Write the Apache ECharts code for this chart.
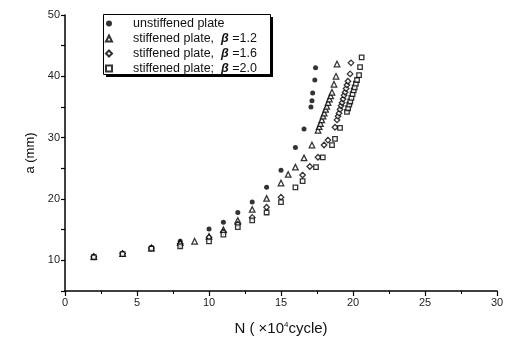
<!DOCTYPE html>
<html>
<head>
<meta charset="utf-8">
<script src="https://cdn.jsdelivr.net/npm/echarts@6/dist/echarts.min.js"></script>
<style>html,body{margin:0;padding:0;background:#fff;}#c{width:507px;height:345px;}</style>
</head>
<body>
<div id="c"></div>
<script>
// Unstiffened plate
var N0 = [2, 4, 6, 8, 10, 11, 12, 13, 14, 15, 16, 16.6, 17.08, 17.15, 17.2, 17.35, 17.4];
var A0 = [10.6, 11.1, 12.1, 13.1, 15.1, 16.2, 17.8, 19.5, 21.9, 24.7, 28.4, 31.4, 35.0, 36.0, 37.3, 39.4, 41.4];
// Stiffened plate, beta = 1.2
var N1 = [2, 4, 6, 8, 9, 10, 11, 12, 13, 14, 15, 15.5, 16, 16.6, 17.15, 17.57, 17.65, 17.74, 17.83, 17.92, 18.0, 18.1, 18.18, 18.27, 18.36, 18.45, 18.54, 18.68, 18.82, 18.89];
var A1 = [10.6, 11.1, 12.0, 12.9, 13.1, 13.9, 15.0, 16.5, 18.3, 20.1, 22.6, 24.0, 25.2, 26.7, 28.8, 31.2, 31.8, 32.3, 32.9, 33.5, 34.0, 34.6, 35.1, 35.7, 36.3, 36.8, 37.4, 38.7, 40.0, 42.0];
// Stiffened plate, beta = 1.6
var N2 = [2, 4, 6, 8, 10, 11, 12, 13, 14, 15, 16.5, 17.0, 17.57, 17.99, 18.26, 18.75, 18.89, 18.96, 19.03, 19.1, 19.17, 19.24, 19.31, 19.38, 19.45, 19.52, 19.58, 19.65, 19.8, 19.86];
var A2 = [10.6, 11.1, 12.0, 12.7, 13.75, 14.6, 15.9, 17.0, 18.65, 20.3, 23.9, 25.3, 26.8, 28.8, 29.6, 31.7, 32.9, 33.5, 34.0, 34.6, 35.2, 35.7, 36.3, 36.9, 37.4, 38.0, 38.6, 39.2, 40.4, 42.2];
// Stiffened plate, beta = 2.0
var N3 = [2, 4, 6, 8, 10, 11, 12, 13, 14, 15, 16, 16.5, 17.43, 17.9, 18.54, 18.75, 19.1, 19.58, 19.66, 19.74, 19.81, 19.89, 19.97, 20.05, 20.12, 20.2, 20.28, 20.42, 20.49, 20.6];
var A3 = [10.5, 11.0, 11.9, 12.3, 13.1, 14.2, 15.4, 16.5, 17.8, 19.5, 21.9, 22.9, 25.2, 26.8, 28.8, 29.8, 31.6, 34.2, 34.8, 35.4, 35.9, 36.5, 37.1, 37.7, 38.2, 38.8, 39.4, 40.2, 41.5, 43.1];

var names = ['unstiffened plate', 'stiffened plate,  β =1.2', 'stiffened plate,  β =1.6', 'stiffened plate;  β =2.0'];
var xTicks = [0, 5, 10, 15, 20, 25, 30];
var yTicks = [10, 20, 30, 40, 50];

function pairs(xs, ys) { return xs.map(function (x, i) { return [x, ys[i]]; }); }

var chart = echarts.init(document.getElementById('c'), null, {renderer: 'canvas'});
var font = 'Liberation Sans, Arial, sans-serif';
var option = {
  animation: false,
  backgroundColor: '#fff',
  grid: {left: 65, right: 10, top: 15, bottom: 54},
  graphic: [
    {type: 'rect', z: 1, left: 106, top: 17, shape: {width: 167, height: 60}, style: {fill: '#000'}},
    {type: 'rect', z: 2, left: 103, top: 14, shape: {width: 167, height: 60}, style: {fill: '#fff', stroke: '#000', lineWidth: 1}}
  ],
  legend: {
    z: 10,
    orient: 'vertical',
    left: 105, top: 17,
    padding: [0, 0, 0, 0],
    itemGap: 2,
    itemWidth: 6, itemHeight: 6,
    data: names,
    formatter: function (n) {
      var p = n.split('β');
      if (p.length === 1) return '{t|' + n + '}';
      return '{t|' + p[0] + '}{b|β}{t|' + p[1] + '}';
    },
    textStyle: {
      fontFamily: font, color: '#111', padding: [0, 0, 0, 16],
      rich: {
        t: {fontFamily: font, fontSize: 12.5, color: '#111'},
        b: {fontFamily: font, fontSize: 12.5, fontStyle: 'italic', fontWeight: 'bold', color: '#111'}
      }
    }
  },
  xAxis: {
    type: 'value', min: 0, max: 30, interval: 5,
    name: 'N ( ×10{s|4}cycle)',
    nameLocation: 'middle', nameGap: 30,
    nameTextStyle: {fontFamily: font, fontSize: 15, color: '#111',
      rich: {s: {fontSize: 8, verticalAlign: 'top', padding: [0, 0, 8, 0], fontFamily: font, color: '#111'}}},
    axisLine: {lineStyle: {color: '#000', width: 1.5}},
    axisTick: {show: true, length: 5, inside: false, lineStyle: {color: '#000', width: 1.2}},
    minorTick: {show: true, splitNumber: 2, length: 3, lineStyle: {color: '#000', width: 1}},
    splitLine: {show: false},
    axisLabel: {fontFamily: font, fontSize: 11, color: '#222', margin: 6,
      formatter: function (v) { return xTicks.indexOf(v) >= 0 ? String(v) : ''; }}
  },
  yAxis: {
    type: 'value', min: 5, max: 50, interval: 5,
    name: 'a (mm)',
    nameLocation: 'middle', nameGap: 27, nameRotate: 90,
    nameTextStyle: {fontFamily: font, fontSize: 13, color: '#111'},
    axisLine: {show: true, lineStyle: {color: '#000', width: 1.5}},
    axisTick: {show: true, length: 4, lineStyle: {color: '#000', width: 1.2}},
    splitLine: {show: false},
    axisLabel: {fontFamily: font, fontSize: 11, color: '#222', margin: 5,
      formatter: function (v) { return yTicks.indexOf(v) >= 0 ? String(v) : ''; }}
  },
  series: [
    {name: names[0], type: 'scatter', symbol: 'circle', symbolSize: 5,
      itemStyle: {color: '#000'}, data: pairs(N0, A0)},
    {name: names[1], type: 'scatter', symbol: 'triangle', symbolSize: 5.5,
      itemStyle: {color: '#fff', borderColor: '#000', borderWidth: 1.3}, data: pairs(N1, A1)},
    {name: names[2], type: 'scatter', symbol: 'diamond', symbolSize: 5.5,
      itemStyle: {color: '#fff', borderColor: '#000', borderWidth: 1.3}, data: pairs(N2, A2)},
    {name: names[3], type: 'scatter', symbol: 'rect', symbolSize: 4.5,
      itemStyle: {color: '#fff', borderColor: '#000', borderWidth: 1.3}, data: pairs(N3, A3)}
  ]
};
chart.setOption(option);
</script>
</body>
</html>
